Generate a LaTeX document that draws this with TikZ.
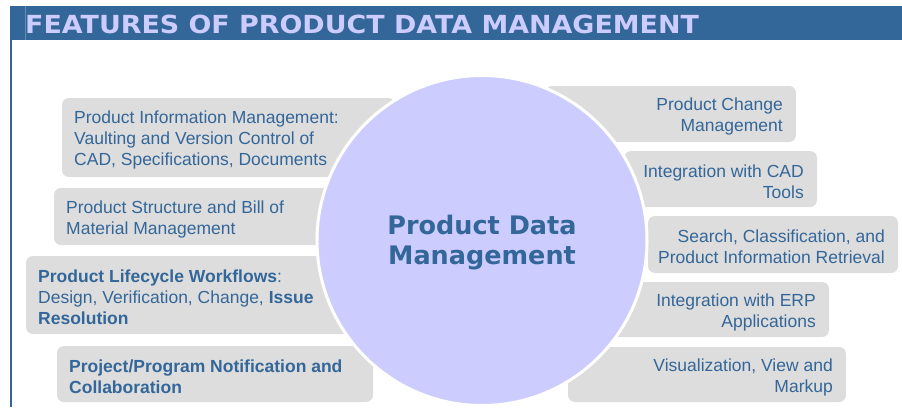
\documentclass[tikz,border=0pt]{standalone}
\usepackage{fontspec}
\setmainfont{Liberation Sans}
\newfontfamily\headfont{DejaVu Sans}
\definecolor{pdmblue}{RGB}{51,102,153}
\definecolor{lavender}{RGB}{204,204,255}
\definecolor{panel}{RGB}{221,221,221}
\tikzset{
  feature/.style={fill=panel, draw=none, rounded corners=7pt, inner sep=0pt, outer sep=0pt, anchor=north west},
  ftext/.style={text=pdmblue, inner sep=0pt, font=\fontsize{17.5}{21}\selectfont},
  lefttext/.style={ftext, anchor=west, align=left},
  righttext/.style={ftext, anchor=east, align=right},
}
\begin{document}
\begin{tikzpicture}[x=1pt,y=-1pt]
\useasboundingbox (0,0) rectangle (902,407);
% title bar and left rule
\fill[pdmblue] (10,6) rectangle (902,40);
\fill[pdmblue] (10,40) rectangle (12,407);
\draw[pdmblue!75!white, line width=0.6pt] (25,6) -- (25,40);
\node[anchor=base west, inner sep=0pt, text=lavender] (title) at (25,33)
  {\scalebox{1.08}[1]{\headfont\bfseries\fontsize{24.9}{28}\selectfont FEATURES OF PRODUCT DATA MANAGEMENT}};

% feature panels, left side
\node[feature, minimum width=333pt, minimum height=79pt] (b1) at (62,98) {};
\node[feature, minimum width=306pt, minimum height=57pt] (b2) at (54,188) {};
\node[feature, minimum width=344pt, minimum height=78pt] (b3) at (26,256) {};
\node[feature, minimum width=316pt, minimum height=56pt] (b4) at (57,346) {};
% feature panels, right side
\node[feature, minimum width=251pt, minimum height=56pt] (r1) at (545,86) {};
\node[feature, minimum width=193pt, minimum height=56pt] (r2) at (624,151) {};
\node[feature, minimum width=250pt, minimum height=57pt] (r3) at (648,216) {};
\node[feature, minimum width=229pt, minimum height=55pt] (r4) at (600,282) {};
\node[feature, minimum width=278pt, minimum height=55pt] (r5) at (568,347) {};

% panel texts
\node[lefttext] (t1) at ([xshift=12pt,yshift=-2.5pt]b1.west)
  {Product Information Management:\\Vaulting and Version Control of\\CAD, Specifications, Documents};
\node[lefttext] (t2) at ([xshift=12pt,yshift=-2.5pt]b2.west)
  {Product Structure and Bill of\\Material Management};
\node[lefttext] (t3) at ([xshift=12pt,yshift=-2.5pt]b3.west)
  {\textbf{Product Lifecycle Workflows}:\\Design, Verification, Change, \textbf{Issue}\\\textbf{Resolution}};
\node[lefttext, font=\fontsize{17.5}{21}\selectfont\bfseries] (t4) at ([xshift=12pt,yshift=-2.5pt]b4.west)
  {Project/Program Notification and\\Collaboration};
\node[righttext] (s1) at ([xshift=-13pt,yshift=-2.5pt]r1.east) {Product Change\\Management};
\node[righttext] (s2) at ([xshift=-13pt,yshift=-2.5pt]r2.east) {Integration with CAD\\Tools};
\node[righttext] (s3) at ([xshift=-13pt,yshift=-2.5pt]r3.east) {Search, Classification, and\\Product Information Retrieval};
\node[righttext] (s4) at ([xshift=-13pt,yshift=-2.5pt]r4.east) {Integration with ERP\\Applications};
\node[righttext] (s5) at ([xshift=-13pt,yshift=-2.5pt]r5.east) {Visualization, View and\\Markup};

% central hub
\node[circle, minimum size=330pt, inner sep=0pt, fill=lavender, draw=white, line width=3pt] (hub) at (482,240.5) {};
\node[align=center, inner sep=0pt, text=pdmblue, font=\headfont\bfseries\fontsize{25.5}{30}\selectfont] (hubtext) at ([yshift=-2pt]hub.center)
  {Product Data\\Management};
\end{tikzpicture}
\end{document}
